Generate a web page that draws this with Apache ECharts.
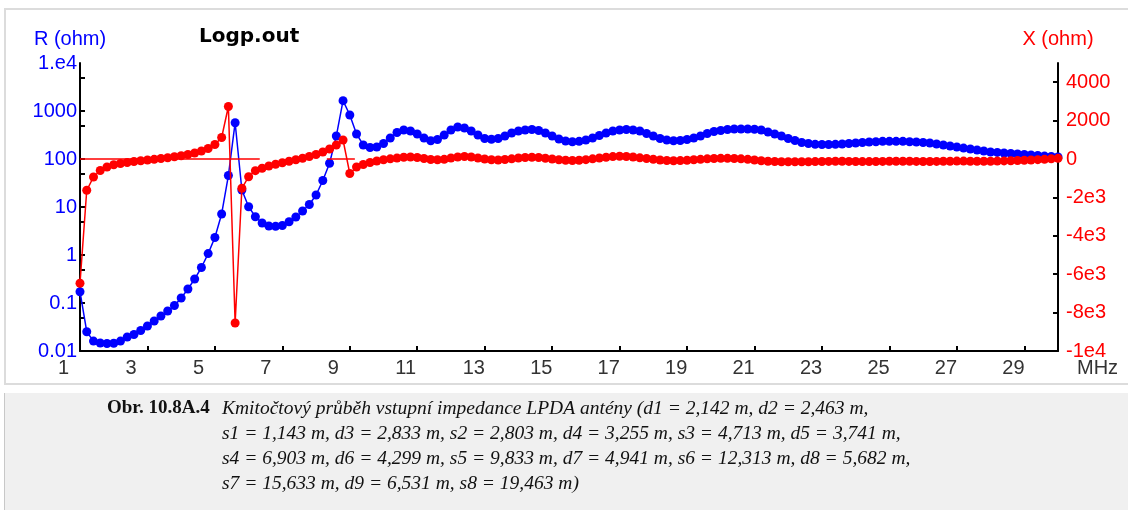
<!DOCTYPE html>
<html>
<head>
<meta charset="utf-8">
<title>Logp.out</title>
<script src="https://cdn.jsdelivr.net/npm/echarts@6/dist/echarts.min.js"></script>
<style>
  html, body { margin: 0; padding: 0; background: #fff; }
  #wrap { position: relative; width: 1128px; height: 510px; overflow: hidden; }
  .frame { position: absolute; left: 4px; top: 8px; width: 1124px; height: 373px;
           border-top: 2px solid #dcdcdc; border-left: 2px solid #dcdcdc; border-bottom: 2px solid #dcdcdc; }
  .panel { position: absolute; left: 4px; top: 393px; width: 1124px; height: 117px;
           background: #f0f0f0; border-left: 1px solid #c8c8c8; }
  #chart { position: absolute; left: 0; top: 0; width: 1128px; height: 510px; }
</style>
</head>
<body>
<div id="wrap">
  <div class="frame"></div>
  <div class="panel"></div>
  <div id="chart"></div>
</div>
<script>
// frequency sweep, MHz
const freq = [
  1.0, 1.2, 1.4, 1.6, 1.8, 2.0, 2.2, 2.4, 2.6, 2.8,
  3.0, 3.2, 3.4, 3.6, 3.8, 4.0, 4.2, 4.4, 4.6, 4.8,
  5.0, 5.2, 5.4, 5.6, 5.8, 6.0, 6.2, 6.4, 6.6, 6.8,
  7.0, 7.2, 7.4, 7.6, 7.8, 8.0, 8.2, 8.4, 8.6, 8.8,
  9.0, 9.2, 9.4, 9.6, 9.8, 10.0, 10.2, 10.4, 10.6, 10.8,
  11.0, 11.2, 11.4, 11.6, 11.8, 12.0, 12.2, 12.4, 12.6, 12.8,
  13.0, 13.2, 13.4, 13.6, 13.8, 14.0, 14.2, 14.4, 14.6, 14.8,
  15.0, 15.2, 15.4, 15.6, 15.8, 16.0, 16.2, 16.4, 16.6, 16.8,
  17.0, 17.2, 17.4, 17.6, 17.8, 18.0, 18.2, 18.4, 18.6, 18.8,
  19.0, 19.2, 19.4, 19.6, 19.8, 20.0, 20.2, 20.4, 20.6, 20.8,
  21.0, 21.2, 21.4, 21.6, 21.8, 22.0, 22.2, 22.4, 22.6, 22.8,
  23.0, 23.2, 23.4, 23.6, 23.8, 24.0, 24.2, 24.4, 24.6, 24.8,
  25.0, 25.2, 25.4, 25.6, 25.8, 26.0, 26.2, 26.4, 26.6, 26.8,
  27.0, 27.2, 27.4, 27.6, 27.8, 28.0, 28.2, 28.4, 28.6, 28.8,
  29.0, 29.2, 29.4, 29.6, 29.8, 30.0
];

// R (ohm), blue, log axis
const resistance = [
  0.172, 0.0252, 0.0161, 0.0147, 0.0143, 0.0145, 0.0161, 0.0196, 0.0221, 0.0267,
  0.0332, 0.0422, 0.0536, 0.0681, 0.0887, 0.127, 0.196, 0.316, 0.549, 1.07,
  2.32, 7.15, 45.3, 570, 22.6, 10.1, 6.28, 4.64, 4.02, 3.96,
  4.12, 4.94, 6.19, 8.25, 11.3, 17.8, 35.6, 81.4, 301, 1640,
  825, 332, 196, 174, 178, 210, 274, 356, 402, 383,
  332, 274, 240, 255, 316, 402, 464, 442, 383, 316,
  267, 257, 267, 301, 348, 383, 402, 412, 392, 348,
  301, 261, 237, 229, 233, 249, 274, 309, 348, 383,
  402, 412, 402, 383, 340, 301, 267, 249, 240, 243,
  255, 274, 301, 340, 374, 392, 412, 422, 422, 422,
  417, 402, 365, 332, 301, 267, 243, 221, 210, 202,
  200, 200, 202, 205, 210, 215, 221, 226, 229, 233,
  233, 233, 233, 229, 226, 221, 215, 205, 196, 187,
  178, 169, 162, 154, 147, 140, 137, 133, 130, 127,
  124, 121, 118, 115, 113, 110
];

// X (ohm), red, linear axis
const reactance = [
  -6474, -1630, -937, -599, -417, -302, -234, -182, -130, -94,
  -52, -16, 26, 68, 115, 167, 234, 312, 417, 547,
  755, 1120, 2734, -8541, -1526, -922, -609, -484, -365, -276,
  -193, -115, -42, 42, 130, 234, 365, 521, 729, 990,
  -755, -417, -286, -182, -104, -42, 10, 52, 89, 104,
  78, 26, -26, -42, -16, 52, 104, 130, 104, 52,
  0, -42, -52, -26, 10, 52, 78, 89, 78, 42,
  0, -42, -68, -78, -68, -36, 10, 52, 94, 125,
  141, 130, 104, 62, 26, -16, -52, -78, -89, -83,
  -68, -42, -16, 10, 26, 36, 36, 26, 10, -16,
  -52, -89, -115, -130, -141, -141, -146, -146, -141, -135,
  -130, -125, -120, -120, -125, -130, -135, -135, -130, -125,
  -120, -115, -115, -120, -125, -130, -130, -125, -120, -115,
  -110, -110, -115, -120, -120, -115, -110, -100, -90, -78,
  -68, -52, -36, -16, 10, 36
];

// short zero-reactance reference segments (the '-' entry breaks the line)
const zeroLine = [[1.0, 0], [6.33, 0], [7.5, '-'], [8.32, 0], [9.15, 0]];

const xLabels = [1, 3, 5, 7, 9, 11, 13, 15, 17, 19, 21, 23, 25, 27, 29];
const xTicks = [3, 5, 7, 9, 11, 13, 15, 17, 19, 21, 23, 25, 27, 29];
const rLabels = [0.01, 0.1, 1, 10, 100, 1000, 10000];
const rTicks = [0.01, 0.05, 0.1, 0.5, 1, 5, 10, 50, 100, 500, 1000, 5000];
const xohmLabels = [-10000, -8000, -6000, -4000, -2000, 0, 2000, 4000];

const captionHead = 'Obr. 10.8A.4';
const captionLines = [
  'Kmitočtový průběh vstupní impedance LPDA antény (d1 = 2,142 m, d2 = 2,463 m,',
  's1 = 1,143 m, d3 = 2,833 m, s2 = 2,803 m, d4 = 3,255 m, s3 = 4,713 m, d5 = 3,741 m,',
  's4 = 6,903 m, d6 = 4,299 m, s5 = 9,833 m, d7 = 4,941 m, s6 = 12,313 m, d8 = 5,682 m,',
  's7 = 15,633 m, d9 = 6,531 m, s8 = 19,463 m)'
];

const BLUE = '#0000ff';
const RED = '#ff0000';
const SANS = '"Liberation Sans", Arial, sans-serif';
const SERIF = '"Liberation Serif", "Times New Roman", serif';

const myChart = echarts.init(document.getElementById('chart'));

const rFmt = v => {
  if (v >= 10000) return '1.e4';
  if (v >= 1) return String(Math.round(v));
  return String(+v.toPrecision(1));
};
const xFmt = v => {
  if (v === 0) return '0';
  if (v > 0) return String(v);
  if (v <= -10000) return '-1e4';
  return '-' + (-v / 1000) + 'e3';
};

const captionGraphic = [
  {
    type: 'text', left: 107, top: 399,
    style: {text: captionHead, font: 'bold 19px ' + SERIF, fill: '#111'}
  }
].concat(captionLines.map((t, i) => ({
  type: 'text', left: 222, top: 399 + i * 24.8,
  style: {text: t, font: 'italic 19.5px ' + SERIF, fill: '#111'}
})));

myChart.setOption({
  animation: false,
  backgroundColor: 'transparent',
  title: {
    text: 'Logp.out',
    left: 199, top: 27, padding: 0,
    textStyle: {fontFamily: '"DejaVu Sans", sans-serif', fontWeight: 'bold', fontSize: 20, color: '#000'}
  },
  grid: {left: 80, top: 63, width: 978, height: 288, containLabel: false, outerBoundsMode: 'none'},
  xAxis: {
    type: 'value', min: 1, max: 30,
    name: 'MHz', nameLocation: 'end', nameGap: 19, nameMoveOverlap: false,
    nameTextStyle: {fontFamily: SANS, fontSize: 20, color: '#333', verticalAlign: 'top', padding: [7, 0, 0, 0]},
    axisLine: {show: true, onZero: false, lineStyle: {color: '#000', width: 2}},
    axisTick: {show: true, inside: true, length: 5, customValues: xTicks, lineStyle: {color: '#000', width: 2}},
    axisLabel: {
      customValues: xLabels, margin: 7,
      formatter: v => '{t|' + v + '}',
      rich: {t: {width: 44, align: 'left', fontFamily: SANS, fontSize: 20, color: '#333'}}
    },
    splitLine: {show: false}
  },
  yAxis: [
    {
      type: 'log', logBase: 10, min: 0.01, max: 10000, position: 'left',
      name: 'R (ohm)', nameLocation: 'end', nameGap: 14, nameMoveOverlap: false,
      nameTextStyle: {fontFamily: SANS, fontSize: 20, color: BLUE, align: 'center', padding: [0, 20, 0, 0]},
      axisLine: {show: true, onZero: false, lineStyle: {color: '#000', width: 2}},
      axisTick: {show: true, inside: true, length: 5, customValues: rTicks, lineStyle: {color: '#000', width: 2}},
      axisLabel: {customValues: rLabels, formatter: rFmt, margin: 3, fontFamily: SANS, fontSize: 20, color: BLUE},
      splitLine: {show: false}
    },
    {
      type: 'value', min: -10000, max: 5000, position: 'right',
      name: 'X (ohm)', nameLocation: 'end', nameGap: 14, nameMoveOverlap: false,
      nameTextStyle: {fontFamily: SANS, fontSize: 20, color: RED, align: 'center'},
      axisLine: {show: true, onZero: false, lineStyle: {color: '#000', width: 2}},
      axisTick: {show: true, inside: true, length: 5, customValues: xohmLabels, lineStyle: {color: '#000', width: 2}},
      axisLabel: {customValues: xohmLabels, formatter: xFmt, margin: 8, fontFamily: SANS, fontSize: 20, color: RED},
      splitLine: {show: false}
    }
  ],
  series: [
    {
      name: 'R', type: 'line', yAxisIndex: 0,
      data: freq.map((f, i) => [f, resistance[i]]),
      symbol: 'circle', symbolSize: 9, showAllSymbol: true,
      lineStyle: {color: BLUE, width: 1.5},
      itemStyle: {color: BLUE},
      z: 2
    },
    {
      name: 'X0', type: 'line', yAxisIndex: 1,
      data: zeroLine, symbol: 'none', connectNulls: false,
      lineStyle: {color: RED, width: 1.5},
      z: 3
    },
    {
      name: 'X', type: 'line', yAxisIndex: 1,
      data: freq.map((f, i) => [f, reactance[i]]),
      symbol: 'circle', symbolSize: 9, showAllSymbol: true,
      lineStyle: {color: RED, width: 1.5},
      itemStyle: {color: RED},
      z: 4
    }
  ],
  graphic: captionGraphic
});
</script>
</body>
</html>
